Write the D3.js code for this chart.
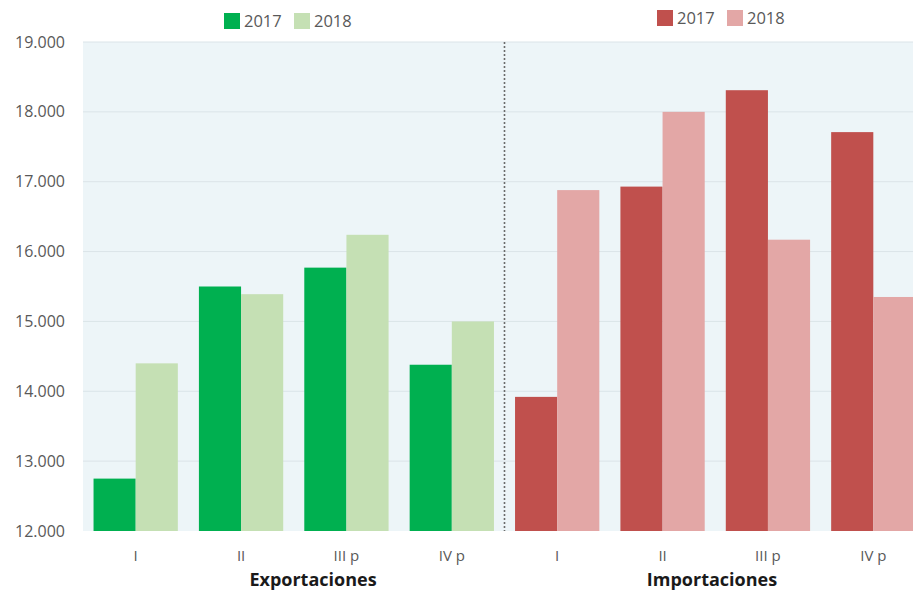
<!DOCTYPE html>
<html>
<head>
<meta charset="utf-8">
<script src="https://cdn.jsdelivr.net/npm/d3@7"></script>
<style>
  html, body { margin: 0; padding: 0; background: #ffffff; }
  svg { display: block; font-family: "Open Sans", "Noto Sans", sans-serif; }
</style>
</head>
<body>
<svg id="chart" width="913" height="594"></svg>
<script>
// ---- data ----
const quarters = ["I", "II", "III p", "IV p"];
const groups = ["Exportaciones", "Importaciones"];
const years = ["2017", "2018"];
const exports2017 = [12750, 15500, 15770, 14380];
const exports2018 = [14400, 15390, 16240, 15000];
const imports2017 = [13920, 16930, 18310, 17710];
const imports2018 = [16880, 18000, 16170, 15350];
const yTicks = [12000, 13000, 14000, 15000, 16000, 17000, 18000, 19000];

const exportColors = ["#00b050", "#c5e0b4"];
const importColors = ["#c0504d", "#e3a7a6"];

// ---- layout ----
const svg = d3.select("#chart");
const plotLeft = 83, plotRight = 926, plotTop = 42, plotBottom = 531;

const slots = [];
groups.forEach((g, gi) => quarters.forEach((q, qi) => slots.push({g, gi, q, qi, key: g + "|" + q})));

const x = d3.scaleBand().domain(slots.map(s => s.key)).range([plotLeft, plotRight]).paddingInner(0.2).paddingOuter(0.1);
const xSub = d3.scaleBand().domain(years).range([0, x.bandwidth()]);
const y = d3.scaleLinear().domain([12000, 19000]).range([plotBottom, plotTop]);

// background
svg.append("rect").attr("x", plotLeft).attr("y", plotTop)
  .attr("width", plotRight - plotLeft).attr("height", plotBottom - plotTop)
  .attr("fill", "#edf5f8");

// gridlines
svg.append("g").selectAll("line").data(yTicks.slice(1)).join("line")
  .attr("x1", plotLeft).attr("x2", plotRight)
  .attr("y1", d => y(d)).attr("y2", d => y(d))
  .attr("stroke", "#dbe4e8").attr("stroke-width", 1);

// y axis labels
const fmt = d => d3.format(",")(d).replace(",", ".");
const yAxis = d3.axisLeft(y).tickValues(yTicks).tickFormat(fmt).tickSize(0).tickPadding(18);
const ya = svg.append("g").attr("transform", `translate(${plotLeft},0)`).call(yAxis);
ya.select(".domain").remove();
ya.selectAll("text").attr("font-size", 16).attr("fill", "#595959")
  .attr("font-family", "'Open Sans', sans-serif");

// bars
const seriesData = [];
slots.forEach(s => {
  years.forEach((yr, yi) => {
    const arr = s.gi === 0 ? (yi === 0 ? exports2017 : exports2018) : (yi === 0 ? imports2017 : imports2018);
    const col = s.gi === 0 ? exportColors[yi] : importColors[yi];
    seriesData.push({key: s.key, year: yr, value: arr[s.qi], color: col});
  });
});
svg.append("g").selectAll("rect").data(seriesData).join("rect")
  .attr("x", d => x(d.key) + xSub(d.year))
  .attr("y", d => y(d.value))
  .attr("width", xSub.bandwidth())
  .attr("height", d => y(12000) - y(d.value))
  .attr("fill", d => d.color);

// divider dotted line
const divX = (x(slots[3].key) + x.bandwidth() + x(slots[4].key)) / 2;
svg.append("line").attr("x1", divX).attr("x2", divX).attr("y1", plotTop).attr("y2", plotBottom)
  .attr("stroke", "#6b6b6b").attr("stroke-width", 1.6).attr("stroke-dasharray", "2,2");

// x axis category labels
const xAxis = d3.axisBottom(x).tickFormat(k => k.split("|")[1]).tickSize(0).tickPadding(19);
const xa = svg.append("g").attr("transform", `translate(0,${plotBottom})`).call(xAxis);
xa.select(".domain").remove();
xa.selectAll("text").attr("font-size", 15).attr("fill", "#595959")
  .attr("font-family", "'Open Sans', sans-serif");

// group labels
const groupCenters = [313, 712];
groups.forEach((g, gi) => {
  svg.append("text").attr("x", groupCenters[gi]).attr("y", 586)
    .attr("text-anchor", "middle").attr("font-size", 18).attr("font-weight", "bold")
    .attr("fill", "#1a1a1a").text(g);
});

// legends
function legend(x0, yc, colors) {
  const lg = svg.append("g");
  const positions = [x0, x0 + 70];
  years.forEach((yr, i) => {
    lg.append("rect").attr("x", positions[i]).attr("y", yc - 8).attr("width", 16).attr("height", 16).attr("fill", colors[i]);
    lg.append("text").attr("x", positions[i] + 20).attr("y", yc).attr("dy", "0.35em")
      .attr("font-size", 16.5).attr("fill", "#595959").text(yr);
  });
}
legend(224, 21, exportColors);
legend(657, 18, importColors);
</script>
</body>
</html>
